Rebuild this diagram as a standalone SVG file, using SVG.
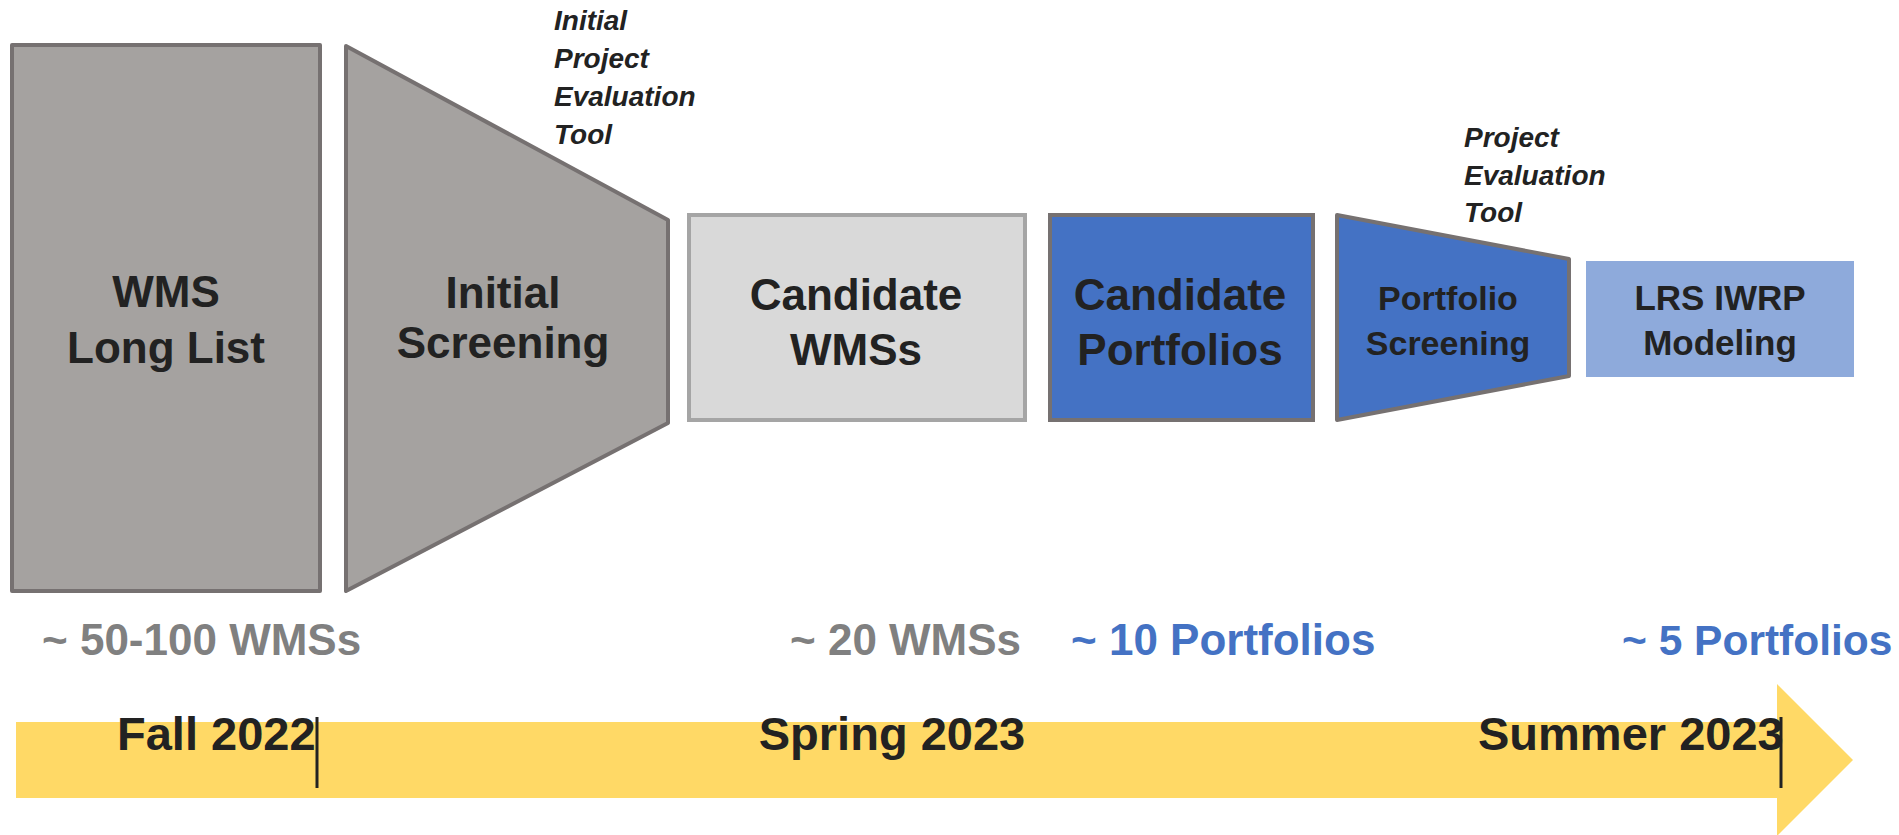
<svg xmlns="http://www.w3.org/2000/svg" width="1899" height="835" viewBox="0 0 1899 835">
<style>
text{font-family:"Liberation Sans",Arial,sans-serif;font-weight:bold;fill:#222}
.n{font-size:44px;text-anchor:middle}
.s{font-size:34px;text-anchor:middle}
.it{font-size:28px;font-style:italic}
.cnt{font-size:44px}
.g{fill:#808080}
.b{fill:#4472C4}
.t{font-size:47px}
.gray{fill:#A5A2A0;stroke:#767171;stroke-width:4;stroke-linejoin:round}
</style>
<rect width="1899" height="835" fill="#fff"/>
<g id="wms-long-list">
<rect class="gray" x="12" y="45" width="308" height="546"/>
<text class="n" x="166" y="307">WMS</text>
<text class="n" x="166" y="363">Long List</text>
</g>
<g id="initial-screening">
<polygon class="gray" points="346,46 668,220 668,423 346,591"/>
<text class="n" x="503" y="308">Initial</text>
<text class="n" x="503" y="358">Screening</text>
</g>
<g id="initial-tool-label">
<text class="it" x="554" y="30">Initial</text>
<text class="it" x="554" y="68">Project</text>
<text class="it" x="554" y="106">Evaluation</text>
<text class="it" x="554" y="144">Tool</text>
</g>
<g id="candidate-wms">
<rect x="689" y="215" width="336" height="205" fill="#D9D9D9" stroke="#A5A5A5" stroke-width="4"/>
<text class="n" x="856" y="310">Candidate</text>
<text class="n" x="856" y="365">WMSs</text>
</g>
<g id="candidate-portfolios">
<rect x="1050" y="215" width="263" height="205" fill="#4472C4" stroke="#767171" stroke-width="4"/>
<text class="n" x="1180" y="310">Candidate</text>
<text class="n" x="1180" y="365">Portfolios</text>
</g>
<g id="portfolio-screening">
<polygon points="1337,215 1569,259 1569,376 1337,420" fill="#4472C4" stroke="#767171" stroke-width="4" stroke-linejoin="round"/>
<text class="s" x="1448" y="310">Portfolio</text>
<text class="s" x="1448" y="355">Screening</text>
</g>
<g id="tool-label">
<text class="it" x="1464" y="147">Project</text>
<text class="it" x="1464" y="185">Evaluation</text>
<text class="it" x="1464" y="222">Tool</text>
</g>
<g id="lrs-iwrp-modeling">
<rect x="1586" y="261" width="268" height="116" fill="#8EAADB"/>
<text class="s" x="1720" y="310" style="font-size:35px">LRS IWRP</text>
<text class="s" x="1720" y="355" style="font-size:35px">Modeling</text>
</g>
<g id="counts">
<text class="cnt g" x="42" y="655">~ 50-100 WMSs</text>
<text class="cnt g" x="790" y="655">~ 20 WMSs</text>
<text class="cnt b" x="1071" y="655">~ 10 Portfolios</text>
<text class="cnt b" x="1622" y="655" style="font-size:42.5px">~ 5 Portfolios</text>
</g>
<g id="timeline">
<polygon points="16,722 1777,722 1777,684 1853,760 1777,836 1777,798 16,798" fill="#FFD966"/>
<text class="t" x="117" y="750">Fall 2022</text>
<text class="t" x="892" y="750" text-anchor="middle">Spring 2023</text>
<text class="t" x="1478" y="750">Summer 2023</text>
</g>
<g id="connectors">
<line x1="317" y1="717" x2="317" y2="788" stroke="#222" stroke-width="3"/>
<line x1="1781" y1="717" x2="1781" y2="788" stroke="#222" stroke-width="3"/>
</g>
</svg>
